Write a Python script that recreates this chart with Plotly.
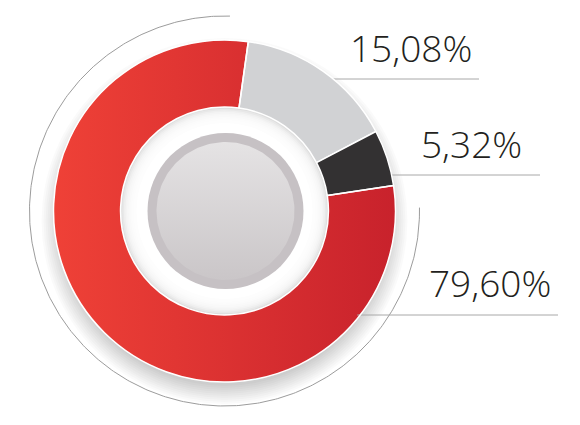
import numpy as np
import plotly.graph_objects as go

# ---- data ----
segments = ["Segment A", "Segment B", "Segment C"]
values = [15.08, 5.32, 79.60]
slice_colors = ["#d1d2d4", "#333132", "rgba(0,0,0,0)"]  # red slice painted with gradient underneath
label_text = [f"{v:.2f}".replace(".", ",") + "%" for v in values]

# ---- geometry / style ----
W, H = 580, 425
CX, CY = 224.5, 211.0
R = 171.0
HOLE = 0.608
ROT = 8.0
R_IN = R * HOLE
ARC_R = 195.0
FONT = "Open Sans"

fracs = np.array(values) / np.sum(values)
starts = ROT + 360 * np.concatenate([[0], np.cumsum(fracs)[:-1]])
ends = ROT + 360 * np.cumsum(fracs)


def pt(theta_deg, r):
    t = np.radians(theta_deg)
    return CX + r * np.sin(t), CY - r * np.cos(t)


fig = go.Figure()
shapes = []

# soft drop shadow under the ring
for k in range(10):
    rr = R - 6 + 2 * k
    shapes.append(dict(type="circle", xref="x", yref="y", layer="below",
                       x0=CX - rr, x1=CX + rr, y0=CY + 10 - rr, y1=CY + 10 + rr,
                       fillcolor="rgba(0,0,0,0.018)", line=dict(width=0)))

# hole: white with inset shadow
shapes.append(dict(type="circle", xref="x", yref="y", layer="below",
                   x0=CX - R_IN, x1=CX + R_IN, y0=CY - R_IN, y1=CY + R_IN,
                   fillcolor="#dedede", line=dict(width=0)))
for k in range(1, 10):
    rr = R_IN - 1.6 * k
    shapes.append(dict(type="circle", xref="x", yref="y", layer="below",
                       x0=CX - rr, x1=CX + rr, y0=CY - rr, y1=CY + rr,
                       fillcolor="rgba(255,255,255,0.3)", line=dict(width=0)))
rr = R_IN - 16
shapes.append(dict(type="circle", xref="x", yref="y", layer="below",
                   x0=CX - rr, x1=CX + rr, y0=CY - rr, y1=CY + rr,
                   fillcolor="#ffffff", line=dict(width=0)))
# centre disc border
rr = 78
shapes.append(dict(type="circle", xref="x", yref="y", layer="below",
                   x0=CX + 1 - rr, x1=CX + 1 + rr, y0=CY - rr, y1=CY + rr,
                   fillcolor="#c6c1c4", line=dict(width=0)))

# red slice with horizontal gradient
i = 2
th = np.linspace(starts[i], ends[i], 200)
ox, oy = pt(th, R)
ix, iy = pt(th[::-1], R_IN)
xs = np.concatenate([ox, ix, ox[:1]])
ys = np.concatenate([oy, iy, oy[:1]])
fig.add_trace(go.Scatter(x=xs, y=ys, mode="lines", line=dict(width=0), fill="toself",
                         fillgradient=dict(type="horizontal",
                                           colorscale=[[0, "#ef4137"], [1, "#c8222c"]]),
                         hoverinfo="skip", showlegend=False))

# centre disc gradient (light at top, darker at bottom)
th = np.linspace(0, 360, 200)
dx, dy = pt(th, 69)
fig.add_trace(go.Scatter(x=dx + 1, y=dy, mode="lines", line=dict(width=0), fill="toself",
                         fillgradient=dict(type="vertical",
                                           colorscale=[[0, "#cac6c8"], [1, "#e5e3e4"]]),
                         hoverinfo="skip", showlegend=False))

# outer thin arc
th = np.linspace(1.6, -271, 400)
ax_, ay_ = pt(th, ARC_R)
fig.add_trace(go.Scatter(x=ax_, y=ay_, mode="lines", line=dict(color="#9c9c9c", width=1),
                         hoverinfo="skip", showlegend=False))

# label leader lines and texts
line_y = [79, 175, 315]
line_end = [479, 540, 558]
text_right = [474, 524, 553]
text_mid = [47.5, 143, 282]
for yv, xe, xr, ym, txt in zip(line_y, line_end, text_right, text_mid, label_text):
    xs0 = CX + np.sqrt(R ** 2 - (yv - CY) ** 2) - 3
    fig.add_trace(go.Scatter(x=[xs0, xe], y=[yv, yv], mode="lines",
                             line=dict(color="#a8a8a8", width=1),
                             hoverinfo="skip", showlegend=False))
    fig.add_annotation(x=xr, y=ym, xref="x", yref="y", text=txt, showarrow=False,
                       xanchor="right", yanchor="middle",
                       font=dict(family=FONT, size=37, color="#231f20", weight=300))

# the donut itself
fig.add_trace(go.Pie(labels=segments, values=values, hole=HOLE, sort=False,
                     direction="clockwise", rotation=ROT, textinfo="none",
                     marker=dict(colors=slice_colors, line=dict(color="#ffffff", width=1.5)),
                     domain=dict(x=[(CX - R) / W, (CX + R) / W],
                                 y=[1 - (CY + R) / H, 1 - (CY - R) / H]),
                     hoverinfo="skip", showlegend=False))

fig.update_layout(width=W, height=H, margin=dict(l=0, r=0, t=0, b=0),
                  paper_bgcolor="#ffffff", plot_bgcolor="#ffffff",
                  xaxis=dict(range=[0, W], visible=False, fixedrange=True),
                  yaxis=dict(range=[H, 0], visible=False, fixedrange=True),
                  shapes=shapes, showlegend=False)

fig.write_html("out.html", config=dict(displayModeBar=False),
               post_script="document.body.style.margin='0';document.body.style.overflow='hidden';")
